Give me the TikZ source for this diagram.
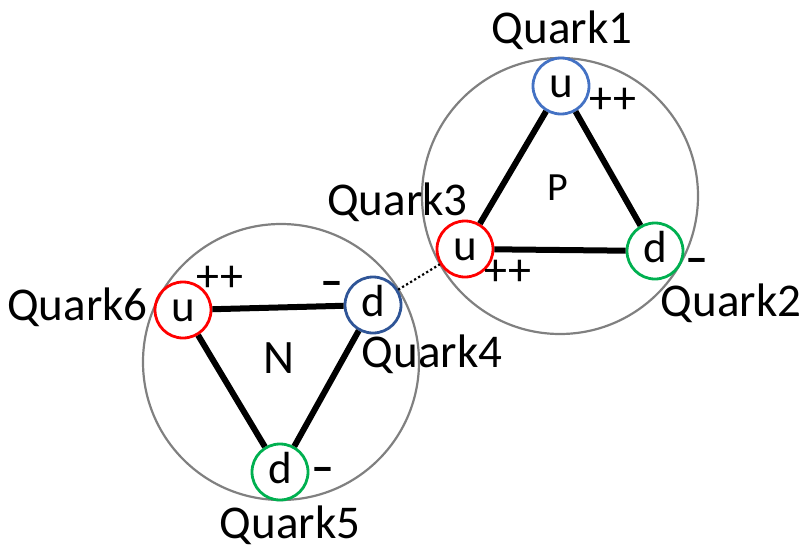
\documentclass[tikz,border=0pt]{standalone}
\usepackage{fontspec}
\setmainfont{Carlito}
\definecolor{hadgray}{RGB}{128,128,128}
\definecolor{qblue}{RGB}{68,114,196}
\definecolor{qnavy}{RGB}{47,85,151}
\definecolor{qred}{RGB}{255,0,0}
\definecolor{qgreen}{RGB}{0,176,80}
\begin{document}
\begin{tikzpicture}[x=1pt,y=-1pt,
  hadron/.style={draw=hadgray, line width=2.2pt, circle, minimum size=276pt, inner sep=0pt},
  quark/.style={circle, draw, line width=2.8pt, minimum size=56pt, inner sep=0pt,
    font=\fontsize{45}{45}\selectfont, text height=22pt, text depth=0pt},
  lbl/.style={font=\fontsize{47}{47}\selectfont, anchor=base, inner sep=0pt},
  chg/.style={font=\fontsize{46}{46}\selectfont, inner sep=0pt},
  mns/.style={font=\fontsize{46}{46}\selectfont\bfseries, inner sep=0pt},
  bond/.style={line width=6pt},
  link/.style={line width=2.2pt, dash pattern=on 2.2pt off 2.5pt}]
\useasboundingbox (0,0) rectangle (806,549);
% hadrons
\node[hadron] (P) at (560,196) {};
\node[hadron] (N) at (281,362) {};
\node[font=\fontsize{40}{40}\selectfont, inner sep=0pt] (Plbl) at (557.5,188) {P};
\node[font=\fontsize{48}{48}\selectfont, inner sep=0pt] (Nlbl) at (279,358.5) {N};
% quarks
\node[quark, draw=qblue]  (q1) at (561,86)  {u};
\node[quark, draw=qgreen] (q2) at (655,251) {d};
\node[quark, draw=qred]   (q3) at (465,249) {u};
\node[quark, draw=qnavy]  (q4) at (373,305) {d};
\node[quark, draw=qgreen] (q5) at (280,472) {d};
\node[quark, draw=qred]   (q6) at (183,310) {u};
% bonds
\draw[bond] (q1) -- (q3);
\draw[bond] (q3) -- (q2);
\draw[bond] (q1) -- (q2);
\draw[bond] (q6) -- (q4);
\draw[bond] (q6) -- (q5);
\draw[bond] (q4) -- (q5);
\draw[link] (q4) -- (q3);
% names
\node[lbl] (n1) at (562,43)  {Quark1};
\node[lbl] (n2) at (731,316) {Quark2};
\node[lbl] (n3) at (397.5,215) {Quark3};
\node[lbl] (n4) at (432,367) {Quark4};
\node[lbl] (n5) at (290,538) {Quark5};
\node[lbl] (n6) at (77.5,320) {Quark6};
% charges
\node[chg] (c1) at (613,101) {++};
\node[chg] (c3) at (508,273) {++};
\node[chg] (c6) at (220,279) {++};
\node[mns] (c2) at (697,266) {–};
\node[mns] (c4) at (332,289) {–};
\node[mns] (c5) at (322.5,475) {–};
\end{tikzpicture}
\end{document}
